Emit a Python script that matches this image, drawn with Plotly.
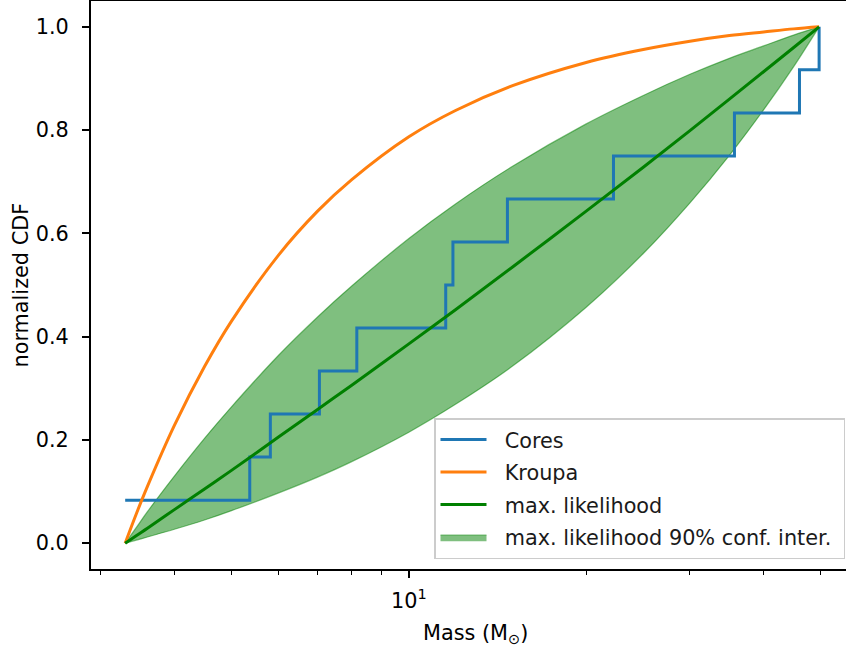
import plotly.graph_objects as go

# Core masses (solar masses), sorted, and their empirical CDF levels
core_mass = [3.30, 5.37, 5.82, 7.05, 8.16, 11.55, 11.88, 14.70, 22.25, 35.70, 46.03, 49.70]
core_cdf = [1/12, 2/12, 3/12, 4/12, 5/12, 6/12, 7/12, 8/12, 9/12, 10/12, 11/12, 12/12]

# Mass grid on which the model CDFs are tabulated
model_mass = [3.30, 3.45, 3.6, 4.0, 4.5, 5.0, 6.0, 7.0, 8.0, 10.0, 12.0, 15.0,
              20.0, 25.0, 30.0, 35.0, 40.0, 45.0, 49.70]
kroupa_cdf = [0.0, 0.058, 0.110, 0.228, 0.342, 0.430, 0.557, 0.643, 0.704, 0.787,
              0.838, 0.886, 0.931, 0.956, 0.972, 0.983, 0.990, 0.996, 1.0]
ml_cdf = [0.0, 0.015, 0.029, 0.065, 0.105, 0.141, 0.205, 0.259, 0.306, 0.386,
          0.452, 0.535, 0.643, 0.728, 0.799, 0.860, 0.913, 0.960, 1.0]
ci_upper = [0.0, 0.031, 0.061, 0.130, 0.203, 0.264, 0.363, 0.438, 0.498, 0.590,
            0.657, 0.730, 0.812, 0.867, 0.908, 0.939, 0.963, 0.984, 1.0]
ci_lower = [0.0, 0.006, 0.012, 0.027, 0.045, 0.063, 0.097, 0.128, 0.158, 0.215,
            0.269, 0.343, 0.457, 0.561, 0.659, 0.751, 0.839, 0.923, 1.0]

y_ticks = [0.0, 0.2, 0.4, 0.6, 0.8, 1.0]
y_tick_text = ["0.0", "0.2", "0.4", "0.6", "0.8", "1.0"]
x_major = [10]
x_major_text = ["10<sup>1</sup>"]
x_minor = [3, 4, 5, 6, 7, 8, 9, 20, 30, 40, 50]

BLUE = "#1f77b4"
ORANGE = "#ff7f0e"
GREEN = "#008000"
BAND = "rgba(0,128,0,0.5)"
FONT = "DejaVu Sans"
FS = 20.8
PAD = "\u00a0\u00a0"  # gap between legend handle and label
END = "\u00a0"        # right-hand padding inside the legend box

fig = go.Figure()

# 90% confidence band (lower edge, then upper edge filled down to it)
fig.add_trace(go.Scatter(
    x=model_mass, y=ci_lower, mode="lines", showlegend=False, legendgroup="ci",
    line=dict(color=BAND, width=1.2, shape="spline", smoothing=1),
    hoverinfo="skip"))
fig.add_trace(go.Scatter(
    x=model_mass, y=ci_upper, mode="lines", fill="tonexty", fillcolor=BAND,
    name=PAD + "max. likelihood 90% conf. inter." + END, legendrank=4, legendgroup="ci",
    line=dict(color=BAND, width=1.2, shape="spline", smoothing=1)))

fig.add_trace(go.Scatter(
    x=core_mass, y=core_cdf, mode="lines", name=PAD + "Cores" + END,
    legendrank=1, legendgroup="cores",
    line=dict(color=BLUE, width=3, shape="hv")))
fig.add_trace(go.Scatter(
    x=model_mass, y=kroupa_cdf, mode="lines", name=PAD + "Kroupa" + END,
    legendrank=2, legendgroup="kroupa",
    line=dict(color=ORANGE, width=3, shape="spline", smoothing=1)))
fig.add_trace(go.Scatter(
    x=model_mass, y=ml_cdf, mode="lines", name=PAD + "max. likelihood" + END,
    legendrank=3, legendgroup="ml",
    line=dict(color=GREEN, width=3, shape="spline", smoothing=1)))

fig.update_layout(
    width=846, height=649,
    margin=dict(l=91, r=0, t=1, b=80),
    plot_bgcolor="white", paper_bgcolor="white",
    font=dict(family=FONT, size=FS, color="black"),
    legend=dict(
        x=(845 - 91) / 755, y=(569 - 559) / 568, xanchor="right", yanchor="bottom",
        bgcolor="rgba(255,255,255,0.8)", bordercolor="#cccccc", borderwidth=1.5,
        font=dict(family=FONT, size=FS, color="#1a1a1a"),
        itemwidth=46, traceorder="grouped", tracegroupgap=2.5),
    annotations=[
        dict(text="Mass (M<sub>⊙</sub>)", xref="paper", yref="paper",
             x=(475 - 91) / 755, y=(569 - 634) / 568, xanchor="center", yanchor="middle",
             showarrow=False, font=dict(family=FONT, size=FS)),
        dict(text="normalized CDF", xref="paper", yref="paper",
             x=(20.5 - 91) / 755, y=0.5, textangle=-90, xanchor="center", yanchor="middle",
             showarrow=False, font=dict(family=FONT, size=FS)),
    ],
)

fig.update_xaxes(
    type="log", range=[0.4605, 1.7420],
    showgrid=False, zeroline=False,
    showline=True, linecolor="black", linewidth=1.6, mirror=True,
    tickmode="array", tickvals=x_major, ticktext=x_major_text,
    ticks="outside", ticklen=7.3, tickwidth=1.6, tickcolor="black",
    ticklabelstandoff=5,
    tickfont=dict(family=FONT, size=FS),
    minor=dict(tickmode="array", tickvals=x_minor, ticks="outside",
               ticklen=4.2, tickwidth=1.2, tickcolor="black", showgrid=False),
)
fig.update_yaxes(
    range=[-0.05, 1.05],
    showgrid=False, zeroline=False,
    showline=True, linecolor="black", linewidth=1.6, mirror=False,
    tickmode="array", tickvals=y_ticks, ticktext=y_tick_text,
    ticks="outside", ticklen=7.3, tickwidth=1.6, tickcolor="black",
    ticklabelstandoff=9,
    tickfont=dict(family=FONT, size=FS),
)

fig.write_html("out.html")
